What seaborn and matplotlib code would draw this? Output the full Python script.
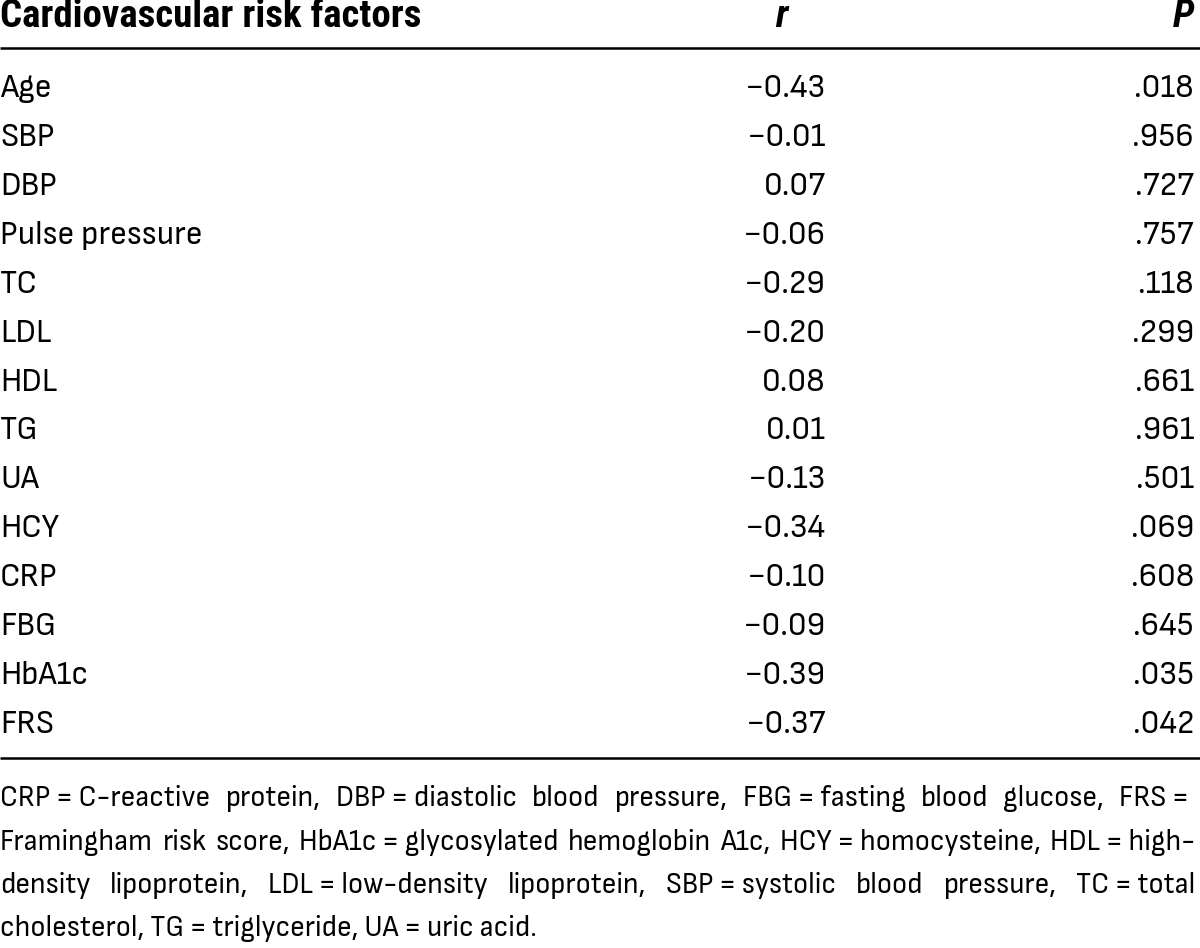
import matplotlib
matplotlib.use("Agg")
import matplotlib.pyplot as plt
import seaborn as sns
import pandas as pd

# table data
factors = ["Age", "SBP", "DBP", "Pulse pressure", "TC", "LDL", "HDL", "TG",
           "UA", "HCY", "CRP", "FBG", "HbA1c", "FRS"]
r_values = [-0.43, -0.01, 0.07, -0.06, -0.29, -0.20, 0.08, 0.01,
            -0.13, -0.34, -0.10, -0.09, -0.39, -0.37]
p_values = [0.018, 0.956, 0.727, 0.757, 0.118, 0.299, 0.661, 0.961,
            0.501, 0.069, 0.608, 0.645, 0.035, 0.042]
headers = ["Cardiovascular risk factors", "r", "P"]

eq = "\u2009=\u2009"
footnote_lines = [
    f"CRP{eq}C-reactive protein, DBP{eq}diastolic blood pressure, FBG{eq}fasting blood glucose, FRS{eq}",
    f"Framingham risk score, HbA1c{eq}glycosylated hemoglobin A1c, HCY{eq}homocysteine, HDL{eq}high-",
    f"density lipoprotein, LDL{eq}low-density lipoprotein, SBP{eq}systolic blood pressure, TC{eq}total",
    f"cholesterol, TG{eq}triglyceride, UA{eq}uric acid.",
]

df = pd.DataFrame({"factor": factors, "r": r_values, "p": p_values})

sns.set_theme(style="white")
# condensed sans close to the journal's Helvetica Condensed
plt.rcParams["font.family"] = ["Sofia Sans Semi Condensed", "Roboto Condensed", "DejaVu Sans"]
plt.rcParams["text.color"] = "black"
bold_family = ["Roboto Condensed", "DejaVu Sans"]   # has real bold / bold italic faces

W, H = 1200, 948
fig = plt.figure(figsize=(W / 100, H / 100), dpi=100)
ax = fig.add_axes([0, 0, 1, 1])
ax.set_xlim(0, W)
ax.set_ylim(H, 0)
ax.axis("off")
renderer = fig.canvas.get_renderer()


def fit_size(text, target_px, **kw):
    """font size that makes `text` about target_px wide"""
    t = ax.text(0, 0, text, fontsize=20, **kw)
    w = t.get_window_extent(renderer).width
    t.remove()
    return 20 * target_px / w


fs = fit_size("Pulse pressure", 203)
head_fs = fit_size(headers[0], 421, fontweight="bold", family=bold_family)
foot_fs = fit_size(footnote_lines[-1], 537)

col_r = 826      # right edge of r column
col_p = 1194     # right edge of P column
first_base = 97
row_step = (733 - 97) / 13

# header
ax.text(0, 27, headers[0], fontsize=head_fs, fontweight="bold", family=bold_family,
        va="baseline", ha="left")
ax.text(781, 27, headers[1], fontsize=head_fs, fontweight="bold", style="italic",
        family=bold_family, va="baseline", ha="center")
ax.text(col_p, 27, headers[2], fontsize=head_fs, fontweight="bold", style="italic",
        family=bold_family, va="baseline", ha="right")
ax.plot([0, W], [48, 48], color="black", lw=1.8, solid_capstyle="butt")

# body rows
for i, row in df.iterrows():
    y = first_base + i * row_step
    ax.text(0, y, row["factor"], fontsize=fs, va="baseline", ha="left")
    ax.text(col_r, y, f"{row['r']:.2f}".replace("-", "\u2212"), fontsize=fs,
            va="baseline", ha="right")
    ax.text(col_p, y, f"{row['p']:.3f}".lstrip("0"), fontsize=fs,
            va="baseline", ha="right")

ax.plot([0, W], [758, 758], color="black", lw=1.8, solid_capstyle="butt")

# footnote, justified like the journal layout
foot_base = [806, 849.5, 893, 936]
x0, x1 = 0, 1195
for k, line in enumerate(footnote_lines):
    words = line.split(" ")
    if k == len(footnote_lines) - 1:
        ax.text(x0, foot_base[k], line, fontsize=foot_fs, va="baseline", ha="left")
        continue
    texts = [ax.text(0, foot_base[k], w, fontsize=foot_fs, va="baseline", ha="left")
             for w in words]
    widths = [t.get_window_extent(renderer).width for t in texts]
    gap = (x1 - x0 - sum(widths)) / (len(words) - 1)
    x = x0
    for t, w in zip(texts, widths):
        t.set_x(x)
        x += w + gap

fig.savefig("out.png", dpi=100)
